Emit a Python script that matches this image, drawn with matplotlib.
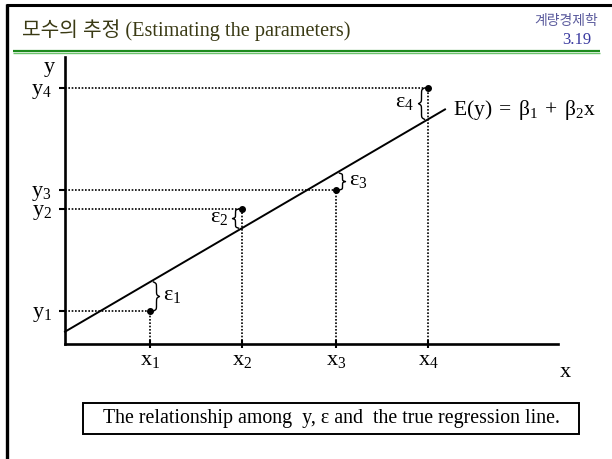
import numpy as np
import matplotlib.pyplot as plt
from matplotlib.patches import Rectangle

plt.rcParams["font.family"] = ["Liberation Serif", "Noto Sans CJK KR"]
plt.rcParams["mathtext.fontset"] = "custom"
plt.rcParams["mathtext.rm"] = "Liberation Serif"
plt.rcParams["mathtext.it"] = "Liberation Serif:italic"

# observations and true regression line
x_obs = [8.5, 17.7, 27.1, 36.3]
y_obs = [3.3, 13.5, 15.4, 25.6]
beta1 = 1.23
beta2 = 0.585
line_x = [0.0, 38.0]
x_labels = [r"$\mathrm{x}_1$", r"$\mathrm{x}_2$", r"$\mathrm{x}_3$", r"$\mathrm{x}_4$"]
y_labels = [r"$\mathrm{y}_1$", r"$\mathrm{y}_2$", r"$\mathrm{y}_3$", r"$\mathrm{y}_4$"]
eps_labels = [r"$\mathrm{\varepsilon}_1$", r"$\mathrm{\varepsilon}_2$",
              r"$\mathrm{\varepsilon}_3$", r"$\mathrm{\varepsilon}_4$"]
eps_side = ["right", "left", "right", "left"]

W, H = 612, 459
fig = plt.figure(figsize=(W / 100, H / 100), dpi=100)

# slide decoration layer (pixel coordinates)
deco = fig.add_axes([0, 0, 1, 1])
deco.set_xlim(0, W)
deco.set_ylim(H, 0)
deco.axis("off")
deco.plot([6, W], [5, 5], color="black", lw=2.2, solid_capstyle="butt")
deco.plot([6.5, 6.5], [4, H], color="black", lw=2.4, solid_capstyle="butt")
deco.plot([13, 600], [51.2, 51.2], color="#1c8a1c", lw=1.6, solid_capstyle="butt")
deco.plot([13, 600], [53.2, 53.2], color="#6cc46c", lw=1.0, solid_capstyle="butt")
deco.text(22, 30, "모수의 추정 (Estimating the parameters)", fontsize=14.6,
          color="#3a3a14", va="center", ha="left")
deco.text(598, 21, "계량경제학", fontsize=10, color="#5a5a9c",
          family="Noto Sans CJK KR", ha="right", va="center")
deco.text(591, 40, "3.19", fontsize=12, color="#3a3aa0", ha="right", va="center")
deco.add_patch(Rectangle((83, 403), 496, 31, fill=False, edgecolor="black", lw=1.4))
deco.text(331, 418.5, "The relationship among  y, ε and  the true regression line.",
          fontsize=14.3, ha="center", va="center")

# main chart
left, right, bottom, top = 65, 558, 344, 57
ax = fig.add_axes([left / W, (H - bottom) / H, (right - left) / W, (bottom - top) / H])
ax.set_xlim(0, 49.3)
ax.set_ylim(0, 28.7)
for s in ["top", "right"]:
    ax.spines[s].set_visible(False)
for s in ["left", "bottom"]:
    ax.spines[s].set_linewidth(1.9)
ax.patch.set_alpha(0)

line_y = [beta1 + beta2 * v for v in line_x]
ax.plot(line_x, line_y, color="black", lw=1.4, clip_on=False)

for xv, yv in zip(x_obs, y_obs):
    ax.plot([0, xv], [yv, yv], color="black", lw=1.2, ls=(0, (1, 1)))
    ax.plot([xv, xv], [0, yv], color="black", lw=1.2, ls=(0, (1, 1)))
ax.plot(x_obs, y_obs, "o", color="black", ms=4)

ax.set_xticks(x_obs, x_labels)
ax.set_yticks(y_obs, y_labels)
ax.tick_params(axis="x", direction="inout", length=6, width=1.5, labelsize=16, pad=2)
ax.tick_params(axis="y", direction="out", length=4.5, width=1.5, labelsize=16, pad=5)

ax.text(-0.02, 0.965, "y", transform=ax.transAxes, fontsize=16, ha="right", va="center")
ax.text(1.015, -0.1, "x", transform=ax.transAxes, fontsize=16, ha="center", va="center")

ax.text(line_x[1] + 0.8, line_y[1] - 0.1,
        r"$\mathrm{E(y)\;=\;\beta_1\;+\;\beta_2x}$", fontsize=15.5, ha="left", va="center")


def brace(ax, xv, ya, yb, side, width=6.0):
    # curly brace drawn in pixel space between (xv, ya) and (xv, yb)
    px, pa = ax.transData.transform((xv, ya))
    _, pb = ax.transData.transform((xv, yb))
    lo, hi = min(pa, pb), max(pa, pb)
    half = (hi - lo) / 2
    t = np.linspace(0, half, 80)
    k = 20.0 / max(half, 1.0)
    s = 1 / (1 + np.exp(-k * (t - t[0]))) + 1 / (1 + np.exp(-k * (t - t[-1])))
    s = np.concatenate([s, s[-2::-1]]) - 0.5
    ys = np.concatenate([lo + t, lo + half + t[1:]])
    sign = 1 if side == "right" else -1
    xs = px + sign * width * s
    pts = ax.transData.inverted().transform(np.column_stack([xs, ys]))
    ax.plot(pts[:, 0], pts[:, 1], color="black", lw=1.0)


fig.canvas.draw()
for xv, yv, lab, side in zip(x_obs, y_obs, eps_labels, eps_side):
    ly = beta1 + beta2 * xv
    mid = (yv + ly) / 2
    if side == "right":
        brace(ax, xv + 0.35, yv, ly, side)
        ax.text(xv + 1.3, mid + 0.1, lab, fontsize=16, ha="left", va="center")
    else:
        brace(ax, xv - 0.35, yv, ly, side)
        ax.text(xv - 1.4, mid + 0.1, lab, fontsize=16, ha="right", va="center")

fig.savefig("out.png", dpi=100)
